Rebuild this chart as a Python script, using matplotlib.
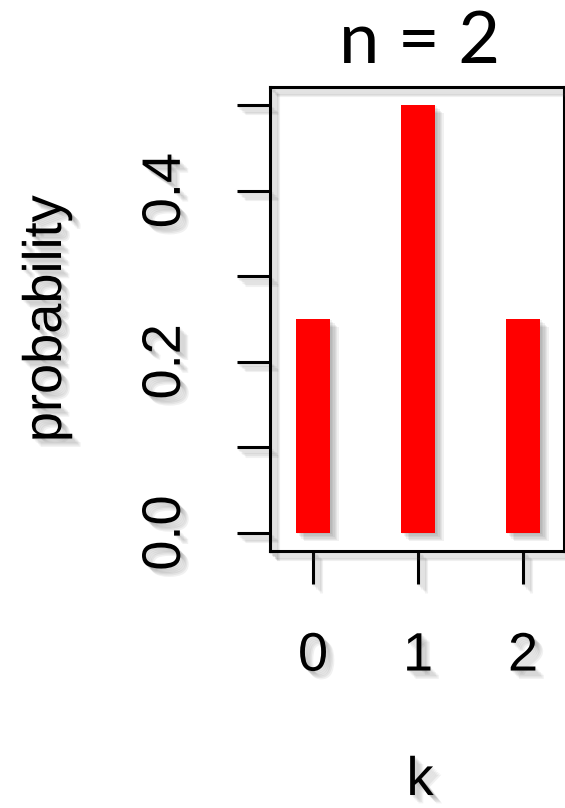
import matplotlib
matplotlib.use("Agg")
import matplotlib.pyplot as plt
import matplotlib.patheffects as pe

# data
k = [0, 1, 2]
prob = [0.25, 0.5, 0.25]
y_major = [0.0, 0.2, 0.4]
y_labels = ["0.0", "0.2", "0.4"]
y_minor = [0.1, 0.3, 0.5]


def soft_shadow():
    # rough blurred drop shadow: a few faint offset copies
    fx = [pe.SimplePatchShadow(offset=(o, -o), shadow_rgbFace="0.3", alpha=0.08)
          for o in (1, 2, 3, 4, 5, 6)]
    return fx + [pe.Normal()]


def line_shadow():
    fx = [pe.SimpleLineShadow(offset=(o, -o), shadow_color="0.3", alpha=0.08)
          for o in (1, 2, 3, 4, 5, 6)]
    return fx + [pe.Normal()]


fig = plt.figure(figsize=(5.65, 8.08), dpi=100)
ax = fig.add_axes([270 / 565, 257 / 808, 294 / 565, 464 / 808])

bars = ax.bar(k, prob, width=0.33, color="#ff0000", zorder=3)
for b in bars:
    b.set_path_effects(soft_shadow())

ax.set_xlim(-0.41, 2.39)
ax.set_ylim(-0.021, 0.521)

ax.set_xticks(k)
ax.set_xticklabels([str(v) for v in k])
ax.set_yticks(y_major + y_minor)
ax.set_yticklabels(y_labels + ["", "", ""], rotation=90, va="center")

for s in ax.spines.values():
    s.set_linewidth(2.2)
    s.set_path_effects(line_shadow())

ax.tick_params(axis="both", direction="out", length=24, width=2.2,
               labelsize=39, colors="black")
ax.tick_params(axis="x", pad=34)
ax.tick_params(axis="y", pad=33)

for lab in ax.get_xticklabels() + ax.get_yticklabels():
    lab.set_fontfamily("Liberation Sans")
    lab.set_path_effects(soft_shadow())

for t in ax.xaxis.get_major_ticks() + ax.yaxis.get_major_ticks():
    t.tick1line.set_path_effects(line_shadow())

fig.text(47 / 565, 1 - 319 / 808, "probability", rotation=90,
         ha="center", va="center", fontsize=39, family="Liberation Sans",
         path_effects=soft_shadow())
fig.text(420 / 565, 2 / 808, "k", ha="center", va="bottom",
         fontsize=39, family="Liberation Sans", path_effects=soft_shadow())
fig.text(420 / 565, 1 - 63 / 808, "n = 2", ha="center", va="baseline",
         fontsize=52, family="Lato")

fig.savefig("out.png", dpi=100)
